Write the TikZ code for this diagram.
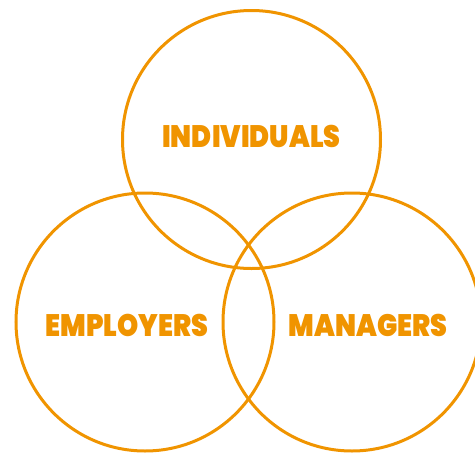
\documentclass[tikz,border=0pt]{standalone}
\usepackage{fontspec}
\newfontfamily\heavy{Poppins Black}
\definecolor{orng}{RGB}{240,148,0}
\newcommand{\sq}[1]{\scalebox{0.87}[1]{#1}}
\begin{document}
\begin{tikzpicture}[x=1pt,y=-1pt,
  ring/.style={draw=orng,line width=3pt,circle,minimum size=258pt,inner sep=0pt},
  lbl/.style={text=orng,font=\heavy\fontsize{31}{31}\selectfont,inner sep=0pt}]
\useasboundingbox (0,0) rectangle (475,456);
\clip (0,0) rectangle (475,456);
\node[ring] (top) at (251.5,139.5) {};
\node[ring] (left) at (145,322) {};
\node[ring] (right) at (352,322) {};
\node[lbl] (t1) at (251.5,136) {\sq{INDIVIDUALS}};
\node[lbl] (t2) at (127,325) {\sq{EMPLOYERS}};
\node[lbl] (t3) at (368,325) {\sq{MANAGERS}};
\end{tikzpicture}
\end{document}
